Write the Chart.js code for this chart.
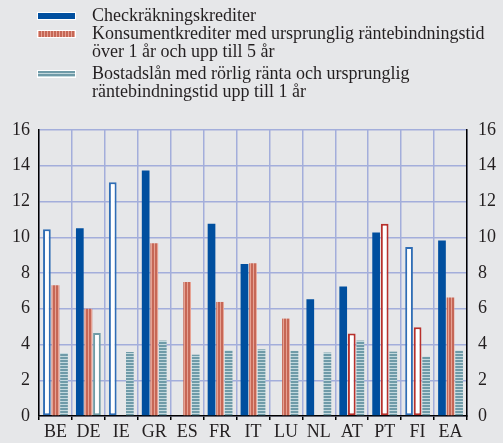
<!DOCTYPE html>
<html>
<head>
<meta charset="utf-8">
<script src="https://cdn.jsdelivr.net/npm/chart.js@4/dist/chart.umd.min.js"></script>
<style>
  html, body { margin: 0; padding: 0; background: #e6e7e9; }
  #wrap { position: relative; width: 503px; height: 443px; }
  #legend { position: absolute; left: 0; top: 0; font-family: "Liberation Serif", serif; font-size: 18px; color: #231f20; }
  .item { position: absolute; left: 92px; white-space: nowrap; line-height: 18px; }
  .sw { position: absolute; left: 38px; width: 37px; height: 6px; box-shadow: 0 0 0 1px #fff; }
</style>
</head>
<body>
<div id="wrap">
  <canvas id="chart" width="503" height="443"></canvas>
  <div id="legend">
    <div class="sw" style="top:13px;background:#004f9f"></div>
    <div class="item" style="top:6px">Checkräkningskrediter</div>
    <div class="sw" style="top:31px;background:repeating-linear-gradient(90deg,#e6a293 0 1px,#c66756 1px 3px)"></div>
    <div class="item" style="top:24px">Konsumentkrediter med ursprunglig räntebindningstid<br>över 1 år och upp till 5 år</div>
    <div class="sw" style="top:71px;background:repeating-linear-gradient(180deg,#6f9ba8 0 2px,#c3d9de 2px 3px)"></div>
    <div class="item" style="top:64px">Bostadslån med rörlig ränta och ursprunglig<br>räntebindningstid upp till 1 år</div>
  </div>
</div>
<script>
// Data
const countries = ["BE", "DE", "IE", "GR", "ES", "FR", "IT", "LU", "NL", "AT", "PT", "FI", "EA"]
const overdraft = [10.45, 10.5, 13.07, 13.74, null, 10.75, 8.5, null, 6.53, 7.24, 10.27, 9.45, 9.82]
const consumer = [7.32, 6.0, null, 9.67, 7.5, 6.38, 8.55, 5.45, null, 4.61, 10.75, 4.96, 6.63]
const housing = [3.52, 4.65, 3.58, 4.22, 3.43, 3.67, 3.73, 3.64, 3.55, 4.22, 3.6, 3.32, 3.66]
// countries where the series is drawn as an open bar
const overdraftOpen = ["BE", "IE", "FI"]
const consumerOpen = ["AT", "PT", "FI"]
const housingOpen = ["DE"]
const yTicks = [0, 2, 4, 6, 8, 10, 12, 14, 16]

function makePattern(draw, w, h) {
  const c = document.createElement("canvas")
  c.width = w
  c.height = h
  draw(c.getContext("2d"))
  return c.getContext("2d").createPattern(c, "repeat")
}

const redPattern = makePattern((g) => {
  g.fillStyle = "#c66756"
  g.fillRect(0, 0, 3, 1)
  g.fillStyle = "#e6a293"
  g.fillRect(1, 0, 1, 1)
}, 3, 1)

const tealPattern = makePattern((g) => {
  g.fillStyle = "#6f9ba8"
  g.fillRect(0, 0, 1, 3)
  g.fillStyle = "#c3d9de"
  g.fillRect(0, 2, 1, 1)
}, 1, 3)

function barSet(label, values, fill, line, open) {
  return {
    label: label,
    data: values,
    backgroundColor: countries.map((c) => (open.includes(c) ? "#ffffff" : fill)),
    borderColor: countries.map((c) => (open.includes(c) ? line : fill)),
    borderWidth: countries.map((c) => (open.includes(c) ? 2 : 0)),
    borderSkipped: false,
    categoryPercentage: 0.78,
    barPercentage: 0.9,
  }
}

const font = { family: "'Liberation Serif', serif", size: 18 }
const gridColor = "#a3aedb"

new Chart(document.getElementById("chart"), {
  type: "bar",
  data: {
    labels: countries,
    datasets: [
      barSet("Checkräkningskrediter", overdraft, "#004f9f", "#2f6db5", overdraftOpen),
      barSet("Konsumentkrediter", consumer, redPattern, "#b8302c", consumerOpen),
      barSet("Bostadslån", housing, tealPattern, "#6f9ca7", housingOpen),
    ],
  },
  options: {
    responsive: false,
    animation: false,
    layout: { padding: { top: 130, left: 0, right: 0, bottom: 0 } },
    plugins: {
      legend: { display: false },
      tooltip: { enabled: false },
    },
    scales: {
      x: {
        offset: true,
        grid: { color: gridColor, lineWidth: 1.5, offset: true, tickLength: 4, tickColor: "#000" },
        border: { color: "#000", width: 1.5 },
        ticks: { font: font, color: "#231f20", padding: 1, maxRotation: 0 },
        afterFit: (scale) => { scale.height = 27 },
      },
      y: {
        position: "left",
        min: 0,
        max: 16,
        afterBuildTicks: (scale) => { scale.ticks = yTicks.map((v) => ({ value: v })) },
        grid: { color: gridColor, lineWidth: 1.5, drawTicks: false },
        border: { color: "#000", width: 1.5 },
        ticks: { font: font, color: "#231f20", padding: 9 },
        afterFit: (scale) => { scale.width = 39 },
      },
      y2: {
        position: "right",
        min: 0,
        max: 16,
        afterBuildTicks: (scale) => { scale.ticks = yTicks.map((v) => ({ value: v })) },
        grid: { display: false, drawTicks: false },
        border: { color: "#000", width: 1.5 },
        ticks: { font: font, color: "#231f20", padding: 11 },
        afterFit: (scale) => { scale.width = 36 },
      },
    },
  },
})
</script>
</body>
</html>
